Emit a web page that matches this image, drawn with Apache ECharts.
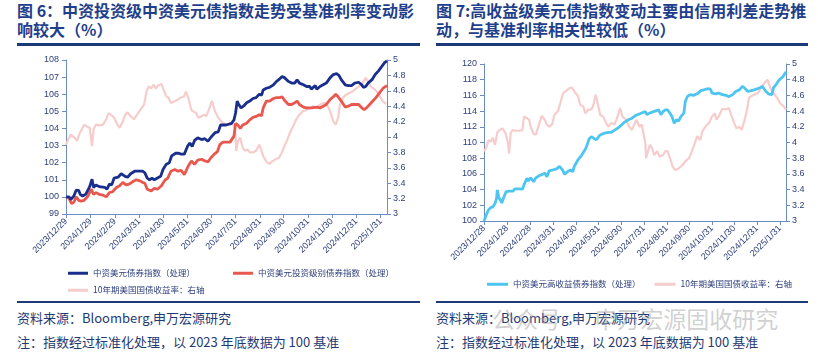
<!DOCTYPE html>
<html>
<head>
<meta charset="utf-8">
<script src="https://cdn.jsdelivr.net/npm/echarts@6/dist/echarts.min.js"></script>
<style>
    body { margin: 0; width: 818px; height: 352px; background: #fff; position: relative; overflow: hidden;
        font-family: "Noto Sans CJK SC", "Liberation Sans", sans-serif; }
    .title { position: absolute; top: 1px; font-size: 16px; font-weight: bold; color: #1f3f8c; line-height: 19px; }
    .bar { position: absolute; top: 43px; height: 3px; background: #1a3a7a; }
    .foot-line { position: absolute; top: 301px; height: 2px; background: #1a3a7a; }
    .foot { position: absolute; font-size: 13px; color: #1f3a73; line-height: 24px; }
    .chart { position: absolute; top: 48px; height: 250px; }
    .mark { position: absolute; left: 492px; top: 301px; font-size: 23px; color: rgba(150,150,150,0.45); white-space: nowrap; }
</style>
</head>
<body>
<div class="title" style="left:17px;">图 6：中资投资级中资美元债指数走势受基准利率变动影<br>响较大（%）</div>
<div class="title" style="left:436px;">图 7:高收益级美元债指数变动主要由信用利差走势推<br>动，与基准利率相关性较低（%）</div>
<div class="bar" style="left:17px;width:403px;"></div>
<div class="bar" style="left:436px;width:372px;"></div>
<div class="chart" id="c1" style="left:0;width:418px;"></div>
<div class="chart" id="c2" style="left:418px;width:400px;"></div>
<div class="foot-line" style="left:17px;width:403px;"></div>
<div class="foot-line" style="left:436px;width:372px;"></div>
<div class="foot" style="left:17px;top:306px;">资料来源：Bloomberg,申万宏源研究<br>注：指数经过标准化处理，以 2023 年底数据为 100 基准</div>
<div class="foot" style="left:436px;top:306px;">资料来源：Bloomberg,申万宏源研究<br>注：指数经过标准化处理，以 2023 年底数据为 100 基准</div>
<div class="mark">公众号 · 申万宏源固收研究</div>
<script>
    // 横轴刻度（月）
    var leftTicks = ['2023/12/29', '2024/1/29', '2024/2/29', '2024/3/31', '2024/4/30', '2024/5/31', '2024/6/30',
        '2024/7/31', '2024/8/31', '2024/9/30', '2024/10/31', '2024/11/30', '2024/12/31', '2025/1/31'];
    var rightTicks = ['2023/12/28', '2024/1/28', '2024/2/28', '2024/3/31', '2024/4/30', '2024/5/31', '2024/6/30',
        '2024/7/31', '2024/8/31', '2024/9/30', '2024/10/31', '2024/11/30', '2024/12/31', '2025/1/31'];

    // [距起始日天数, 数值]
    var navyIdx = [[0,100],[4,100],[6,99.85],[10,100.05],[13,100.4],[16,100.38],[18,100.15],[21,100.05],[25,100.15],[30,100.6],
        [33,101.03],[35,100.55],[38,100.7],[42,100.6],[49,100.55],[52,100.45],[55,100.75],[58,100.7],[61,101.1],[66,101.15],
        [70,101.35],[72,101.4],[75,101.2],[78,101.15],[82,101.35],[87,101.5],[89,101.6],[92,101.5],[94,101.45],[97,101.5],
        [100,101.4],[103,101.1],[106,101.0],[109,101.1],[112,101.0],[116,101.1],[120,101.2],[123,101.6],[127,101.9],[131,102.0],
        [134,102.4],[139,102.55],[143,102.55],[146,102.5],[150,102.5],[154,102.95],[157,103.15],[160,102.95],[163,103.3],[167,103.45],
        [172,103.35],[176,103.4],[180,103.25],[184,103.5],[189,103.75],[193,103.8],[196,104.2],[199,104.2],[203,104.2],[210,104.3],
        [213,104.5],[215,104.9],[217,105.6],[219,105.4],[222,105.2],[225,105.3],[229,105.5],[233,105.6],[237,105.75],[241,105.8],
        [245,106.0],[248,105.95],[250,106.25],[254,106.35],[258,106.4],[263,106.55],[267,106.75],[271,106.9],[274,107.03],[277,106.97],
        [282,106.75],[286,106.65],[290,106.65],[293,106.85],[296,106.65],[301,106.55],[305,106.45],[309,106.45],[311,106.3],[316,106.5],
        [318,106.3],[322,106.45],[326,106.55],[330,106.65],[332,106.75],[335,106.97],[339,107.15],[343,107.2],[346,107.1],[349,106.85],
        [354,106.55],[358,106.5],[362,106.5],[366,106.65],[371,106.7],[375,106.55],[377,106.4],[380,106.45],[383,106.65],[388,106.85],
        [392,107.15],[396,107.35],[400,107.6],[404,107.85],[407,107.95]];
    var igIdx = [[0,100],[4,99.9],[7,99.6],[10,99.7],[13,100.0],[16,99.8],[19,99.75],[23,99.8],[28,100.05],[32,100.45],
        [35,100.15],[38,100.25],[42,100.15],[47,100.1],[51,100.0],[55,100.25],[59,100.3],[64,100.55],[68,100.65],[72,100.85],
        [76,100.7],[80,100.75],[85,100.9],[89,101.0],[93,100.95],[97,100.85],[100,100.8],[103,100.45],[108,100.35],[112,100.5],
        [116,100.45],[121,100.65],[125,100.95],[129,101.1],[133,101.5],[138,101.6],[142,101.5],[146,101.55],[150,101.3],[155,101.8],
        [159,102.1],[163,101.9],[167,102.15],[172,102.2],[176,102.1],[180,102.05],[184,102.3],[188,102.5],[192,102.65],[195,103.05],
        [199,103.2],[201,103.1],[208,103.2],[213,103.55],[215,104.3],[218,104.2],[221,104.0],[224,104.2],[229,104.3],[233,104.5],
        [237,104.65],[241,104.7],[245,104.8],[248,104.75],[250,105.2],[254,105.6],[258,105.6],[263,105.75],[267,105.8],[271,105.8],
        [274,105.85],[277,105.65],[282,105.4],[286,105.4],[290,105.5],[293,105.6],[296,105.4],[301,105.25],[305,105.2],[311,105.2],
        [318,105.25],[322,105.2],[326,105.3],[330,105.4],[335,105.7],[339,105.85],[342,106.0],[345,105.85],[349,105.6],[354,105.25],
        [358,105.3],[362,105.4],[366,105.4],[371,105.4],[375,105.2],[378,105.1],[381,105.2],[385,105.4],[389,105.6],[393,105.8],
        [397,106.05],[402,106.35],[405,106.45],[407,106.5]];
    var ust1 = [[0,3.9],[2,3.95],[6,4.03],[8,4.02],[11,3.99],[14,3.95],[17,4.04],[20,4.1],[23,4.16],[26,4.14],
        [30,4.12],[33,3.88],[35,4.1],[38,4.16],[42,4.15],[47,4.16],[51,4.23],[54,4.31],[57,4.29],[61,4.25],
        [64,4.18],[68,4.12],[72,4.2],[75,4.29],[78,4.32],[82,4.27],[86,4.23],[90,4.29],[94,4.35],[99,4.42],
        [102,4.59],[105,4.66],[108,4.63],[111,4.68],[114,4.63],[117,4.67],[121,4.69],[124,4.61],[127,4.53],[130,4.51],
        [133,4.44],[137,4.46],[141,4.48],[145,4.51],[150,4.53],[152,4.59],[155,4.51],[159,4.35],[162,4.33],[165,4.31],
        [168,4.25],[172,4.27],[175,4.29],[178,4.27],[182,4.38],[185,4.47],[189,4.33],[193,4.25],[197,4.2],[199,4.2],
        [203,4.16],[210,4.18],[214,4.14],[216,3.82],[218,3.95],[221,3.99],[224,3.86],[227,3.82],[230,3.84],[233,3.8],
        [237,3.8],[241,3.82],[245,3.9],[248,3.82],[250,3.75],[254,3.68],[258,3.65],[262,3.69],[266,3.71],[270,3.73],
        [273,3.78],[276,3.86],[280,3.95],[283,4.03],[286,4.1],[289,4.16],[292,4.23],[296,4.29],[301,4.34],[305,4.35],
        [309,4.37],[313,4.4],[318,4.38],[322,4.42],[326,4.44],[330,4.44],[335,4.33],[339,4.2],[342,4.16],[345,4.25],
        [347,4.4],[351,4.51],[355,4.55],[359,4.57],[363,4.59],[368,4.63],[372,4.66],[376,4.7],[380,4.77],[383,4.72],
        [386,4.66],[390,4.63],[394,4.59],[398,4.53],[402,4.46],[406,4.43]];
    var hyIdx = [[0,100],[3,100.77],[6,101.4],[9,101.7],[12,101.8],[15,102.25],[17,102.9],[18,103.95],[20,103.0],[24,102.3],
        [27,103.1],[30,103.75],[34,103.8],[39,103.8],[42,104.1],[48,104.1],[52,104.05],[54,104.6],[58,105.45],[60,105.1],
        [63,105.5],[67,105.0],[70,105.5],[75,105.8],[78,105.9],[82,106.1],[85,105.65],[88,106.4],[93,106.5],[98,106.65],
        [102,106.95],[106,106.5],[109,105.95],[113,106.3],[117,106.5],[120,106.3],[122,106.95],[127,107.8],[132,108.4],[135,108.85],
        [138,109.35],[142,110.45],[145,110.75],[148,110.55],[152,110.35],[156,110.9],[159,111.05],[163,111.2],[168,111.3],[172,111.3],
        [177,111.6],[181,111.85],[186,112.25],[190,112.6],[195,112.9],[200,113.1],[204,113.4],[209,113.6],[213,113.75],[218,113.95],
        [220,113.55],[224,113.75],[228,113.9],[233,114.05],[236,114.15],[239,113.55],[242,113.95],[245,114.15],[248,114.15],[251,113.75],
        [254,113.3],[257,112.45],[260,112.9],[263,112.75],[266,113.3],[270,113.75],[272,115.25],[275,115.9],[279,116.1],[283,116.0],
        [288,116.2],[293,116.6],[297,116.7],[302,116.85],[306,116.8],[308,116.3],[313,116.2],[317,116.3],[322,116.1],[327,116.0],
        [331,115.85],[336,116.1],[340,116.5],[345,116.7],[349,117.15],[352,116.95],[356,116.5],[361,116.6],[365,116.7],[372,116.95],
        [376,117.15],[381,116.5],[385,116.15],[389,116.1],[391,116.95],[395,117.45],[399,118.0],[404,118.4],[408,119.0]];
    var ust2 = [[0,3.89],[3,3.93],[6,4.03],[9,4.01],[12,4.06],[15,3.97],[18,4.13],[21,4.16],[25,4.18],[29,4.12],
        [32,4.01],[34,3.86],[36,4.12],[39,4.16],[43,4.15],[48,4.15],[52,4.16],[54,4.33],[58,4.31],[61,4.29],
        [63,4.2],[67,4.11],[70,4.1],[75,4.25],[78,4.34],[82,4.29],[85,4.23],[88,4.2],[92,4.23],[95,4.35],
        [100,4.4],[103,4.5],[107,4.63],[110,4.65],[115,4.69],[119,4.7],[122,4.65],[127,4.59],[130,4.48],[134,4.46],
        [137,4.37],[141,4.42],[145,4.42],[148,4.48],[151,4.61],[154,4.48],[157,4.35],[161,4.33],[165,4.25],[168,4.2],
        [172,4.25],[176,4.23],[179,4.29],[184,4.44],[187,4.33],[192,4.29],[196,4.2],[200,4.16],[203,4.23],[206,4.29],
        [210,4.2],[213,4.23],[218,3.99],[219,3.8],[221,3.8],[224,3.97],[227,3.93],[230,3.84],[234,3.89],[237,3.82],
        [242,3.84],[245,3.89],[248,3.89],[252,3.78],[255,3.69],[258,3.65],[263,3.67],[268,3.71],[272,3.76],[277,3.8],
        [281,3.89],[284,3.97],[288,4.08],[292,4.03],[295,4.14],[299,4.2],[304,4.25],[308,4.33],[312,4.37],[314,4.29],
        [317,4.33],[322,4.43],[327,4.42],[331,4.44],[334,4.35],[338,4.25],[341,4.18],[345,4.2],[348,4.16],[351,4.25],
        [355,4.4],[358,4.57],[361,4.59],[365,4.61],[370,4.63],[374,4.69],[379,4.76],[383,4.8],[387,4.69],[391,4.63],
        [396,4.57],[400,4.5],[405,4.46],[408,4.42]];

    function dayList(y, m, d, n) { //生成逐日类目
        var out = [];
        for (var i = 0; i < n; i++) {
            var t = new Date(y, m - 1, d + i);
            out.push(t.getFullYear() + '/' + (t.getMonth() + 1) + '/' + t.getDate());
        }
        return out;
    }

    var axisColor = '#6d8cc4';
    var labelColor = '#2e3f7c';

    function makeOption(opts) {
        var ticks = opts.ticks;
        var pick = function(idx, val) { return ticks.indexOf(val) >= 0; };
        return {
            animation: false,
            grid: opts.grid,
            legend: opts.legend,
            xAxis: {
                type: 'category',
                data: opts.days,
                boundaryGap: false,
                axisLine: { lineStyle: { color: axisColor, width: 1 } },
                axisTick: { interval: pick, length: 4, lineStyle: { color: axisColor } },
                axisLabel: { interval: pick, rotate: 45, fontSize: 9, color: labelColor, margin: 6, fontFamily: 'Liberation Sans' }
            },
            yAxis: [{
                type: 'value', min: opts.lmin, max: opts.lmax, interval: opts.lstep,
                splitLine: { show: false },
                axisLine: { show: true, lineStyle: { color: axisColor } },
                axisTick: { show: true, length: 4, lineStyle: { color: axisColor } },
                axisLabel: { fontSize: 9, color: labelColor, margin: 7, fontFamily: 'Liberation Sans' }
            }, {
                type: 'value', min: 3, max: 5, interval: 0.2,
                splitLine: { show: false },
                axisLine: { show: true, lineStyle: { color: axisColor } },
                axisTick: { show: true, length: 4, lineStyle: { color: axisColor } },
                axisLabel: { fontSize: 9, color: labelColor, margin: 6, fontFamily: 'Liberation Sans' }
            }],
            series: opts.series
        };
    }

    function line(name, data, color, width, axis) {
        return {
            name: name, type: 'line', data: data, yAxisIndex: axis || 0,
            symbol: 'none', lineStyle: { color: color, width: width }, itemStyle: { color: color }
        };
    }

    var legendText = { fontSize: 8.5, color: labelColor, fontFamily: 'Noto Sans CJK SC' };
    var navyName = '中资美元债券指数（处理）';
    var igName = '中资美元投资级别债券指数（处理）';
    var ustName = '10年期美国国债收益率：右轴';
    var hyName = '中资美元高收益债券指数（处理）';

    var chart1 = echarts.init(document.getElementById('c1'));
    chart1.setOption(makeOption({
        days: dayList(2023, 12, 29, 408),
        ticks: leftTicks,
        grid: { left: 66, top: 12, width: 321, height: 154 },
        lmin: 99, lmax: 108, lstep: 1,
        legend: [{
            data: [navyName, igName], left: 63, top: 216, icon: 'rect', itemWidth: 20, itemHeight: 3,
            itemGap: 38, textStyle: legendText
        }, {
            data: [ustName], left: 63, top: 233, icon: 'rect', itemWidth: 20, itemHeight: 3, textStyle: legendText
        }],
        series: [
            line(ustName, ust1, '#f6cccc', 2.2, 1),
            line(igName, igIdx, '#e8584e', 2.8),
            line(navyName, navyIdx, '#1a2e8c', 2.8)
        ]
    }));

    var chart2 = echarts.init(document.getElementById('c2'));
    chart2.setOption(makeOption({
        days: dayList(2023, 12, 28, 409),
        ticks: rightTicks,
        grid: { left: 66, top: 16, width: 302, height: 157 },
        lmin: 100, lmax: 120, lstep: 2,
        legend: {
            data: [hyName, ustName], left: 64, top: 227, icon: 'rect', itemWidth: 21, itemHeight: 3,
            itemGap: 14, textStyle: legendText
        },
        series: [
            line(ustName, ust2, '#f6cccc', 2.2, 1),
            line(hyName, hyIdx, '#4cc6f0', 2.8)
        ]
    }));
</script>
</body>
</html>
